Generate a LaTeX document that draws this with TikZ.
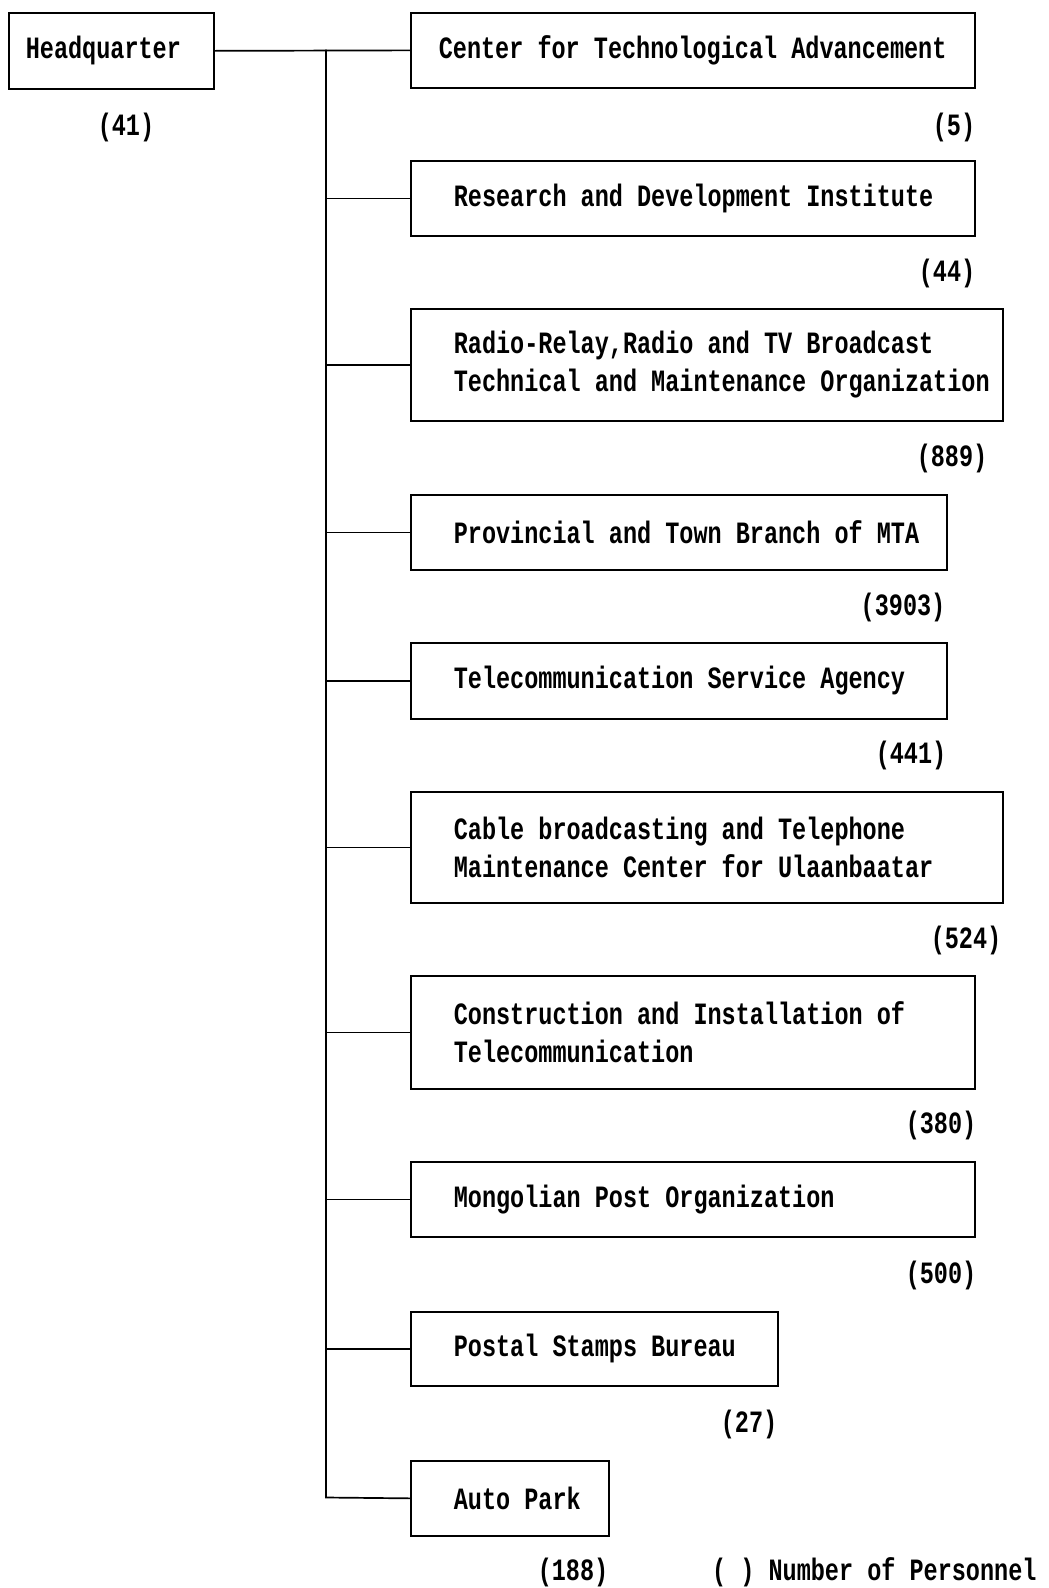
\documentclass[tikz,border=0pt]{standalone}
\usepackage{fontspec}
\newfontfamily\tw[FakeStretch=0.758]{Liberation Mono}
\newcommand\fixsp{\spaceskip=14.1pt\xspaceskip=14.1pt\relax}
\newcommand\bxt[2]{\leftskip=#1\relax\fixsp #2\par}
\begin{document}
\begin{tikzpicture}[x=1pt,y=-1pt,
  every node/.style={font=\tw\bfseries\fontsize{31}{38}\selectfont},
  box/.style={draw, line width=1.7pt, anchor=north west, align=left,
    inner sep=0pt, text width=#1},
  cnt/.style={inner sep=0pt},
  link/.style={line width=1.7pt}]
\useasboundingbox (0,0) rectangle (1049,1588);
% boxes
\node[box=205pt, minimum height=76pt] (hq) at (8,12) {\bxt{17pt}{Headquarter}};
\node[box=564pt, minimum height=75pt] (ctr) at (410,12) {\bxt{28pt}{Center for Technological Advancement}};
\node[box=564pt, minimum height=75pt] (rdi) at (410,160) {\bxt{43pt}{Research and Development Institute}};
\node[box=592pt, minimum height=112pt] (rad) at (410,308) {\bxt{43pt}{Radio-Relay,Radio and TV Broadcast\\Technical and Maintenance Organization}};
\node[box=536pt, minimum height=75pt] (prv) at (410,494) {\bxt{43pt}{Provincial and Town Branch of MTA}};
\node[box=536pt, minimum height=76pt] (tsa) at (410,642) {\bxt{43pt}{Telecommunication Service Agency}};
\node[box=592pt, minimum height=111pt] (cab) at (410,791) {\bxt{43pt}{Cable broadcasting and Telephone\\Maintenance Center for Ulaanbaatar}};
\node[box=564pt, minimum height=113pt] (con) at (410,975) {\bxt{43pt}{Construction and Installation of\\Telecommunication}};
\node[box=564pt, minimum height=75pt] (mpo) at (410,1161) {\bxt{43pt}{Mongolian Post Organization}};
\node[box=367pt, minimum height=74pt] (psb) at (410,1311) {\bxt{43pt}{Postal Stamps Bureau}};
\node[box=198pt, minimum height=75pt] (ap) at (410,1460) {\bxt{43pt}{Auto Park}};
% counts
\node[cnt] (n0) at (126,127) {(41)};
\node[cnt] (n1) at (954,127) {(5)};
\node[cnt] (n2) at (947,273) {(44)};
\node[cnt] (n3) at (952,458) {(889)};
\node[cnt] (n4) at (903,607) {(3903)};
\node[cnt] (n5) at (911,755) {(441)};
\node[cnt] (n6) at (966,940) {(524)};
\node[cnt] (n7) at (941,1125) {(380)};
\node[cnt] (n8) at (941,1275) {(500)};
\node[cnt] (n9) at (749,1424) {(27)};
\node[cnt] (n10) at (573,1572) {(188)};
\node[cnt, anchor=west] (leg) at (712,1572) {\fixsp(\hspace{14.1pt}) Number of Personnel};
% connectors
\coordinate (top) at (326,49.5);
\coordinate (bot) at (326,1497.5);
\draw[link] (hq.east) -- (ctr.west);
\draw[link] (top) -- (bot) -- (ap.west);
\foreach \n in {rdi,rad,prv,tsa,cab,con,mpo,psb}
  \draw[link] (top |- \n.west) -- (\n.west);
\end{tikzpicture}
\end{document}
